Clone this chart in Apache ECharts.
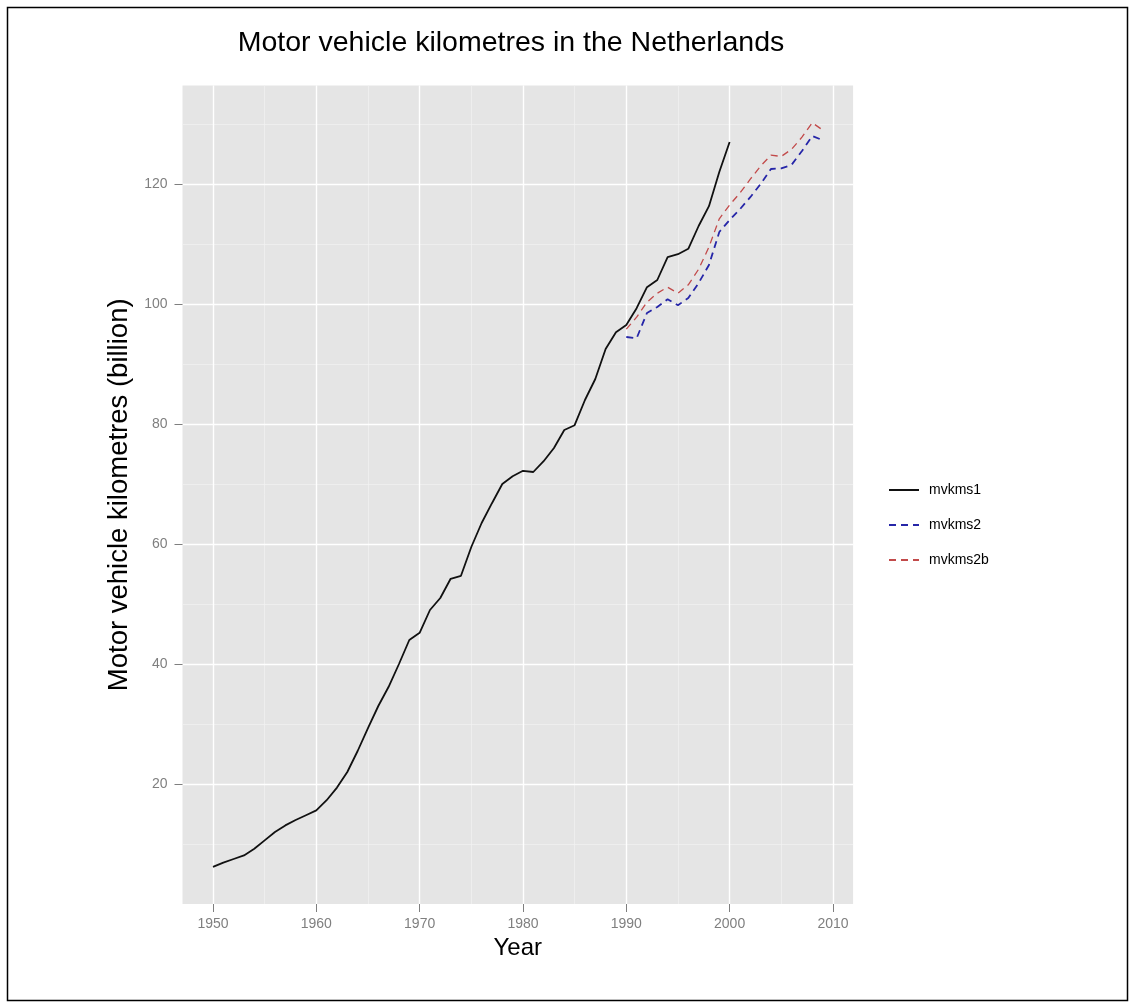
<!DOCTYPE html>
<html>
<head>
<meta charset="utf-8">
<script src="https://cdn.jsdelivr.net/npm/echarts@6/dist/echarts.min.js"></script>
<style>
html,body{margin:0;padding:0;background:#fff;}
#chart{width:1130px;height:1003px;}
</style>
</head>
<body>
<div id="chart"></div>
<script>
// ---- data ----
const years1 = [1950,1951,1952,1953,1954,1955,1956,1957,1958,1959,
                1960,1961,1962,1963,1964,1965,1966,1967,1968,1969,
                1970,1971,1972,1973,1974,1975,1976,1977,1978,1979,
                1980,1981,1982,1983,1984,1985,1986,1987,1988,1989,
                1990,1991,1992,1993,1994,1995,1996,1997,1998,1999,2000];
const mvkms1 = [6.2,6.9,7.5,8.1,9.2,10.6,12.0,13.1,14.0,14.8,
                15.6,17.3,19.4,22.0,25.5,29.3,33.0,36.2,40.0,44.0,
                45.2,49.0,51.0,54.2,54.7,59.5,63.5,66.8,70.0,71.3,
                72.2,72.0,73.8,76.0,79.0,79.8,84.0,87.5,92.5,95.3,
                96.5,99.3,102.8,104.0,107.8,108.3,109.2,113.0,116.3,122.0,127.0];
const years2 = [1990,1991,1992,1993,1994,1995,1996,1997,1998,1999,
                2000,2001,2002,2003,2004,2005,2006,2007,2008,2009];
const mvkms2 = [94.5,94.3,98.5,99.5,100.8,99.8,101.0,103.5,106.5,112.0,
                114.0,115.8,117.8,120.0,122.5,122.6,123.2,125.5,128.0,127.3];
const mvkms2b = [95.8,97.8,100.3,101.8,102.8,101.8,103.2,105.8,109.5,114.2,
                 116.5,118.5,120.8,123.0,124.8,124.6,125.8,127.8,130.2,129.0];
const xMajorTicks = [1950,1960,1970,1980,1990,2000,2010];
const xMinorTicks = [1955,1965,1975,1985,1995,2005];
const yMajorTicks = [20,40,60,80,100,120];
const yMinorTicks = [10,30,50,70,90,110,130];

const pair = (xs, ys) => xs.map((x, i) => [x, ys[i]]);

const FONT = '"Liberation Sans", Arial, Helvetica, sans-serif';
const X_MIN = 1947.05, X_MAX = 2011.95, Y_MIN = 0, Y_MAX = 136.4;

const chart = echarts.init(document.getElementById('chart'), null, {renderer: 'canvas'});

const hiddenAxisBits = {
  axisLine: {show: false},
  axisLabel: {show: false}
};

chart.setOption({
  animation: false,
  backgroundColor: '#ffffff',
  title: {
    text: 'Motor vehicle kilometres in the Netherlands',
    left: 506, top: 24, textAlign: 'center',
    textStyle: {fontFamily: FONT, fontSize: 28.5, fontWeight: 'normal', color: '#000'}
  },
  graphic: [{
    type: 'rect', left: 5, top: 5, z: -10, silent: true,
    shape: {width: 1120, height: 993},
    style: {fill: 'none', stroke: '#000', lineWidth: 1.5}
  }],
  legend: {
    orient: 'vertical', left: 883, top: 478,
    itemWidth: 30, itemHeight: 14, itemGap: 21,
    itemStyle: {opacity: 0},
    textStyle: {fontFamily: FONT, fontSize: 14, color: '#000', padding: [0,0,0,5]},
    data: ['mvkms1', 'mvkms2', 'mvkms2b']
  },
  grid: {
    left: 182.5, top: 85.6, width: 670.6, height: 818.4,
    show: true, backgroundColor: '#e5e5e5', borderWidth: 0
  },
  xAxis: [{
    type: 'value', min: X_MIN, max: X_MAX,
    name: 'Year', nameLocation: 'middle', nameGap: 27,
    nameTextStyle: {fontFamily: FONT, fontSize: 24, color: '#000'},
    axisLine: {show: false},
    axisTick: {show: true, length: 8, customValues: xMajorTicks,
               lineStyle: {color: '#7f7f7f', width: 1}},
    axisLabel: {customValues: xMajorTicks, margin: 13,
                fontFamily: FONT, fontSize: 14, color: '#7f7f7f',
                formatter: v => String(v)},
    splitLine: {show: true, lineStyle: {color: '#ffffff', width: 1.4}},
    z: 2
  }, Object.assign({
    type: 'value', min: X_MIN, max: X_MAX, gridIndex: 0,
    splitLine: {show: true, lineStyle: {color: '#f2f2f2', width: 0.7}},
    z: 1
  }, hiddenAxisBits, {axisTick: {show: false, customValues: xMinorTicks}})],
  yAxis: [{
    type: 'value', min: Y_MIN, max: Y_MAX,
    name: 'Motor vehicle kilometres (billion)', nameLocation: 'middle', nameGap: 40,
    nameTextStyle: {fontFamily: FONT, fontSize: 27.5, color: '#000'},
    axisLine: {show: false},
    axisTick: {show: true, length: 8, customValues: yMajorTicks,
               lineStyle: {color: '#7f7f7f', width: 1}},
    axisLabel: {customValues: yMajorTicks, margin: 15,
                fontFamily: FONT, fontSize: 14, color: '#7f7f7f'},
    splitLine: {show: true, lineStyle: {color: '#ffffff', width: 1.4}},
    z: 2
  }, Object.assign({
    type: 'value', min: Y_MIN, max: Y_MAX, gridIndex: 0,
    splitLine: {show: true, lineStyle: {color: '#f2f2f2', width: 0.7}},
    z: 1
  }, hiddenAxisBits, {axisTick: {show: false, customValues: yMinorTicks}})],
  series: [{
    name: 'mvkms1', type: 'line', showSymbol: false, symbol: 'none',
    data: pair(years1, mvkms1),
    lineStyle: {color: '#111111', width: 1.8},
    itemStyle: {color: '#111111'},
    z: 5
  }, {
    name: 'mvkms2', type: 'line', showSymbol: false, symbol: 'none',
    data: pair(years2, mvkms2),
    lineStyle: {color: '#2626a8', width: 1.8, type: [7, 5]},
    itemStyle: {color: '#2626a8'},
    z: 4
  }, {
    name: 'mvkms2b', type: 'line', showSymbol: false, symbol: 'none',
    data: pair(years2, mvkms2b),
    lineStyle: {color: '#c24a4a', width: 1.3, type: [7, 5]},
    itemStyle: {color: '#c24a4a'},
    z: 3
  }]
});
</script>
</body>
</html>
